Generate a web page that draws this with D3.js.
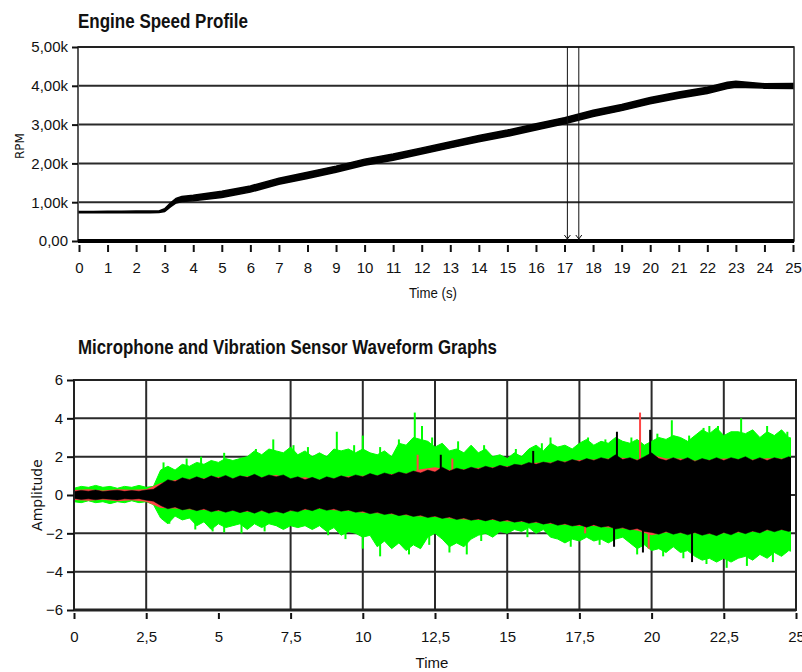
<!DOCTYPE html>
<html lang="en">
<head>
	<meta charset="UTF-8">
	<script type="text/javascript" src="https://d3js.org/d3.v7.min.js"></script>
	<title>Engine Speed / Waveform</title>
	<style>
		body { margin: 0; background: #fff; }
		.title { font-family: "Liberation Sans", Arial, sans-serif; font-weight: bold; fill: #111; }
		.tick text { font-family: "Liberation Sans", Arial, sans-serif; font-size: 15px; fill: #111; }
		.tick line { stroke: #111; stroke-width: 2; }
		.axlabel { font-family: "Liberation Sans", Arial, sans-serif; font-size: 15px; fill: #111; }
		.ylabel { font-family: "DejaVu Sans", sans-serif; font-size: 12px; fill: #111; }
		.grid { stroke: #2a2a2a; stroke-width: 2; }
	</style>
</head>
<body>
<script type="text/javascript">
	// ---- engine speed profile (rpm band)
	const rpmTime  = [0, 0.5, 1, 1.5, 2, 2.5, 2.8, 3.0, 3.2, 3.4, 3.6, 4, 5, 6, 7, 8, 9, 10, 11, 12, 13, 14, 15, 16, 17, 18, 19, 20, 21, 22, 22.7, 23, 24, 25];
	const rpmUpper = [760, 760, 765, 765, 770, 770, 775, 830, 980, 1100, 1150, 1180, 1280, 1420, 1620, 1770, 1930, 2110, 2240, 2400, 2560, 2720, 2860, 3020, 3180, 3370, 3520, 3700, 3840, 3960, 4090, 4120, 4050, 4060];
	const rpmLower = [725, 725, 725, 730, 730, 730, 735, 760, 880, 980, 1020, 1040, 1120, 1260, 1460, 1610, 1770, 1950, 2080, 2240, 2400, 2560, 2700, 2860, 3020, 3210, 3360, 3540, 3680, 3800, 3930, 3960, 3940, 3930];
	const cursors = [17.1, 17.5];
	const rpmTicks = [0, 1000, 2000, 3000, 4000, 5000];
	const timeTicks = d3.range(0, 26, 1);

	// ---- waveform envelopes, sampled every 0.25 s (four per line = one second)
	const fineTime = d3.range(0, 25.001, 0.25);
	const greenUpper = [
		0.35, 0.45, 0.4, 0.5,   0.4, 0.45, 0.35, 0.45,   0.4, 0.5, 0.4, 0.45,
		1.3, 1.5, 1.3, 1.6,     1.5, 1.7, 1.6, 1.8,      1.7, 1.9, 1.8, 1.9,
		2.0, 2.3, 2.1, 2.4,     2.3, 2.2, 2.5, 2.1,      2.3, 2.0, 2.2, 2.0,
		2.4, 2.3, 2.4, 2.2,     2.4, 2.2, 2.1, 2.3,      2.0, 2.7, 2.6, 3.0,
		2.9, 2.8, 2.5, 2.7,     2.3, 2.4, 2.2, 2.6,      2.2, 2.4, 2.0, 2.1,
		1.9, 2.2, 2.0, 2.4,     2.6, 2.3, 2.7, 2.5,      2.6, 2.4, 2.7, 2.9,
		2.6, 2.8, 2.7, 3.0,     2.8, 2.7, 2.9, 2.6,      2.8, 3.0, 2.9, 3.1,
		3.0, 2.8, 3.1, 3.4,     3.2, 3.5, 3.1, 3.3,      3.3, 3.2, 3.4, 3.0,
		3.3, 3.1, 3.4, 3.0,     2.9];
	const greenLower = [
		-0.35, -0.4, -0.3, -0.4,  -0.35, -0.45, -0.35, -0.4,  -0.3, -0.4, -0.35, -0.5,
		-1.2, -1.5, -1.1, -1.3,   -1.2, -1.6, -1.4, -1.8,     -1.5, -1.7, -1.6, -1.5,
		-1.8, -1.5, -1.7, -1.5,   -1.6, -1.8, -1.6, -1.7,     -1.6, -1.8, -1.6, -1.9,
		-1.7, -2.1, -1.9, -2.0,   -2.2, -2.1, -2.7, -2.4,     -2.8, -2.5, -2.9, -2.6,
		-2.8, -2.2, -2.0, -2.3,   -2.7, -2.5, -2.7, -2.3,     -2.1, -2.0, -2.2, -1.9,
		-2.0, -1.8, -1.9, -1.7,   -2.0, -1.8, -2.2, -2.3,     -2.5, -2.3, -2.4, -2.2,
		-2.4, -2.3, -2.5, -2.3,   -2.2, -2.5, -2.8, -2.6,     -2.9, -2.8, -3.0, -2.7,
		-3.0, -2.9, -3.2, -3.4,   -3.3, -3.5, -3.3, -3.5,     -3.3, -3.2, -3.4, -3.1,
		-3.3, -3.0, -3.2, -2.9,   -3.0];
	const blackUpper = [
		0.18, 0.24, 0.2, 0.26,   0.18, 0.22, 0.25, 0.19,   0.23, 0.2, 0.26, 0.3,
		0.55, 0.8, 0.7, 0.9,     0.8, 0.95, 0.82, 1.0,     0.88, 1.02, 0.85, 1.0,
		0.92, 1.08, 0.9, 1.05,   0.95, 1.05, 0.85, 0.95,   0.8, 0.92, 0.78, 0.95,
		0.85, 1.0, 0.9, 1.05,    0.95, 1.12, 1.0, 1.15,    1.05, 1.2, 1.1, 1.25,
		1.15, 1.3, 1.2, 1.45,    1.25, 1.4, 1.3, 1.45,     1.35, 1.5, 1.4, 1.55,
		1.45, 1.6, 1.55, 1.7,    1.6, 1.72, 1.65, 1.8,     1.7, 1.85, 1.75, 1.9,
		1.8, 1.95, 1.85, 2.1,    1.85, 1.95, 1.8, 2.0,     2.2, 1.9, 1.8, 1.95,
		1.8, 1.95, 1.75, 1.9,    1.8, 1.95, 1.8, 1.95,     1.85, 2.0, 1.8, 1.95,
		1.8, 1.95, 1.85, 2.0,    1.85];
	const blackLower = [
		-0.18, -0.23, -0.2, -0.25,  -0.19, -0.22, -0.26, -0.2,   -0.22, -0.19, -0.27, -0.32,
		-0.55, -0.72, -0.62, -0.78, -0.7, -0.82, -0.72, -0.88,   -0.78, -0.9, -0.8, -0.92,
		-0.82, -0.95, -0.8, -0.95,  -0.85, -0.95, -0.8, -0.88,   -0.72, -0.82, -0.68, -0.8,
		-0.72, -0.85, -0.78, -0.9,  -0.85, -0.98, -0.9, -1.02,   -0.95, -1.08, -1.0, -1.12,
		-1.05, -1.18, -1.1, -1.22,  -1.15, -1.28, -1.2, -1.32,   -1.25, -1.35, -1.25, -1.38,
		-1.3, -1.42, -1.35, -1.48,  -1.4, -1.52, -1.45, -1.58,   -1.5, -1.62, -1.55, -1.68,
		-1.55, -1.68, -1.62, -1.78, -1.7, -1.82, -1.75, -1.9,    -1.95, -2.05, -1.9, -2.05,
		-1.95, -2.08, -1.95, -2.1,  -2.0, -2.12, -1.95, -2.08,   -1.9, -2.02, -1.88, -1.98,
		-1.8, -1.92, -1.8, -1.9,    -1.8];
	// red trace, every 0.5 s (two per second)
	const halfTime = d3.range(0, 25.001, 0.5);
	const redUpper = [0.26, 0.3, 0.24, 0.3, 0.28, 0.3, 0.62, 0.78, 0.85, 0.88, 0.95, 0.88, 0.98, 0.92, 1.05, 0.85,
		0.92, 0.8, 0.88, 0.98, 1.0, 1.02, 1.1, 1.12, 1.35, 1.45, 1.3, 1.35, 1.42, 1.45, 1.5, 1.58, 1.68, 1.7,
		1.75, 1.82, 1.85, 1.9, 1.95, 1.85, 2.1, 1.9, 1.9, 1.8, 1.82, 1.9, 1.88, 1.85, 1.92, 1.9, 1.9];
	const redLower = [-0.26, -0.3, -0.25, -0.32, -0.28, -0.35, -0.68, -0.7, -0.75, -0.78, -0.85, -0.82, -0.88, -0.85, -0.9, -0.85,
		-0.78, -0.72, -0.8, -0.82, -0.92, -0.95, -1.0, -1.05, -1.12, -1.15, -1.22, -1.28, -1.3, -1.3, -1.38, -1.4, -1.45, -1.5,
		-1.55, -1.62, -1.62, -1.7, -1.75, -1.85, -2.1, -1.95, -2.0, -2.0, -2.05, -2.0, -1.95, -1.92, -1.85, -1.82, -1.85];
	// narrow peaks [time, amplitude]
	const greenSpikes = [[3.1, 1.7], [3.9, 1.9], [4.4, 2.0], [5.2, 2.2], [6.3, 2.4], [6.9, 2.9], [7.6, 2.6], [8.1, 2.5],
		[9.1, 3.3], [9.7, 2.6], [10.0, 3.1], [10.6, 2.5], [11.25, 2.9], [11.8, 4.3], [12.05, 3.6], [12.4, 3.0], [13.3, 2.8],
		[14.2, 2.6], [15.3, 2.4], [16.2, 2.7], [16.5, 3.0], [17.8, 3.0], [18.4, 2.9], [19.3, 3.0], [20.2, 3.2], [20.7, 3.9],
		[21.3, 3.1], [21.8, 3.5], [22.0, 3.6], [22.3, 3.6], [23.1, 4.0], [24.0, 3.6], [24.7, 3.3],
		[3.3, -1.5], [4.2, -1.8], [4.8, -1.9], [5.2, -1.95], [5.8, -2.0], [6.6, -1.9], [8.8, -2.1], [9.4, -2.3], [10.0, -2.8],
		[10.6, -3.2], [11.6, -3.1], [12.3, -2.6], [13.0, -3.0], [13.6, -3.1], [14.1, -2.4], [15.7, -2.2], [17.2, -2.7],
		[18.2, -2.6], [19.5, -3.1], [20.4, -3.2], [21.1, -3.3], [21.9, -3.6], [22.6, -3.8], [23.3, -3.7], [24.2, -3.5]];
	const redSpikes = [[19.6, 4.3], [11.9, 2.1], [13.1, 1.9], [19.9, -2.8], [19.7, -2.5], [17.7, -2.0]];
	const blackSpikes = [[18.8, 3.3], [19.95, 3.4], [12.7, 2.1], [15.9, 2.3], [18.7, -2.7], [19.7, -3.0], [21.4, -3.5]];
	const ampTicks = [-6, -4, -2, 0, 2, 4, 6];
	const waveTicks = d3.range(0, 25.001, 2.5);
	const waveGrid = [2.5, 7.5, 10, 12.5, 15, 17.5, 20, 22.5];

	const svg = d3.select("body").append("svg")
		.attr("width", 802).attr("height", 672);
	const comma = v => String(v).replace(".", ",");

	// ================= top chart
	let xT = d3.scaleLinear().domain([0, 25]).range([79, 793]),
		yT = d3.scaleLinear().domain([0, 5000]).range([241, 47]);

	svg.append("text").attr("class", "title").attr("x", 78).attr("y", 28)
		.style("font-size", "20px").attr("textLength", 170).attr("lengthAdjust", "spacingAndGlyphs")
		.text("Engine Speed Profile");

	svg.append("g").selectAll("line").data(rpmTicks.slice(1, 5)).enter().append("line")
		.attr("class", "grid")
		.attr("x1", xT(0)).attr("x2", xT(25))
		.attr("y1", d => yT(d)).attr("y2", d => yT(d));

	let rpmData = rpmTime.map((t, i) => ({t: t, hi: rpmUpper[i], lo: rpmLower[i]}));
	svg.append("path").datum(rpmData)
		.attr("fill", "#000").attr("stroke", "#000").attr("stroke-width", 1.5)
		.attr("d", d3.area().x(d => xT(d.t)).y0(d => yT(d.lo)).y1(d => yT(d.hi)));

	// frame
	svg.append("rect").attr("x", xT(0) - 1).attr("y", yT(5000)).attr("width", xT(25) - xT(0) + 2).attr("height", yT(0) - yT(5000))
		.attr("fill", "none").attr("stroke", "#222").attr("stroke-width", 1.5);
	svg.append("line").attr("x1", xT(0) - 1).attr("x2", xT(25) + 1).attr("y1", yT(0)).attr("y2", yT(0))
		.attr("stroke", "#000").attr("stroke-width", 4);
	svg.append("line").attr("x1", xT(0) - 1).attr("x2", xT(25) + 1).attr("y1", yT(5000)).attr("y2", yT(5000))
		.attr("stroke", "#222").attr("stroke-width", 2);

	// cursors
	cursors.forEach(c => {
		svg.append("line").attr("x1", xT(c)).attr("x2", xT(c)).attr("y1", yT(5000)).attr("y2", yT(0))
			.attr("stroke", "#111").attr("stroke-width", 1);
		svg.append("path")
			.attr("d", "M" + (xT(c) - 3) + "," + (yT(0) - 6) + "L" + xT(c) + "," + (yT(0) - 2) + "L" + (xT(c) + 3) + "," + (yT(0) - 6))
			.attr("fill", "none").attr("stroke", "#111").attr("stroke-width", 1);
	});

	let axT = svg.append("g").attr("transform", "translate(0," + (yT(0) + 4) + ")")
		.call(d3.axisBottom(xT).tickValues(timeTicks).tickSize(7).tickSizeOuter(0).tickPadding(10).tickFormat(d3.format("d")));
	axT.select(".domain").remove();
	let ayT = svg.append("g").attr("transform", "translate(" + (xT(0) - 1) + ",0)")
		.call(d3.axisLeft(yT).tickValues(rpmTicks).tickSize(6).tickPadding(4)
			.tickFormat(d => d === 0 ? "0,00" : comma((d / 1000).toFixed(2)) + "k"));
	ayT.select(".domain").remove();

	svg.append("text").attr("class", "axlabel").attr("x", 409).attr("y", 298)
		.attr("textLength", 48).attr("lengthAdjust", "spacingAndGlyphs").text("Time (s)");
	svg.append("text").attr("class", "ylabel").attr("transform", "translate(24,146) rotate(-90)")
		.attr("text-anchor", "middle").text("RPM");

	// ================= bottom chart
	let xB = d3.scaleLinear().domain([0, 25]).range([74, 796]),
		yB = d3.scaleLinear().domain([-6, 6]).range([610, 380]);

	svg.append("text").attr("class", "title").attr("x", 78).attr("y", 354)
		.style("font-size", "21px").attr("textLength", 419).attr("lengthAdjust", "spacingAndGlyphs")
		.text("Microphone and Vibration Sensor Waveform Graphs");

	svg.append("g").selectAll("line").data([-4, -2, 0, 2, 4]).enter().append("line")
		.attr("class", "grid")
		.attr("x1", xB(0)).attr("x2", xB(25))
		.attr("y1", d => yB(d)).attr("y2", d => yB(d));
	svg.append("g").selectAll("line").data(waveGrid).enter().append("line")
		.attr("class", "grid")
		.attr("x1", d => xB(d)).attr("x2", d => xB(d))
		.attr("y1", yB(6)).attr("y2", yB(-6));

	svg.append("clipPath").attr("id", "clipB").append("rect")
		.attr("x", xB(0)).attr("y", yB(6)).attr("width", xB(25) - xB(0) - 5).attr("height", yB(-6) - yB(6));
	let gB = svg.append("g").attr("clip-path", "url(#clipB)");

	let envArea = d3.area().x(d => xB(d.t)).y0(d => yB(d.lo)).y1(d => yB(d.hi));
	let layers = [
		{color: "#00ff00", time: fineTime, hi: greenUpper, lo: greenLower, spikes: greenSpikes, sw: 1},
		{color: "#ff4545", time: halfTime, hi: redUpper, lo: redLower, spikes: redSpikes, sw: 0},
		{color: "#000000", time: fineTime, hi: blackUpper, lo: blackLower, spikes: blackSpikes, sw: 0.5}
	];
	layers.forEach(L => {
		let data = L.time.map((t, i) => ({t: t, hi: L.hi[i], lo: L.lo[i]}))
			.filter(d => d.hi !== undefined && d.lo !== undefined);
		gB.append("path").datum(data)
			.attr("fill", L.color).attr("stroke", L.color).attr("stroke-width", L.sw)
			.attr("d", envArea);
		gB.selectAll(null).data(L.spikes).enter().append("line")
			.attr("x1", d => xB(d[0])).attr("x2", d => xB(d[0]))
			.attr("y1", yB(0)).attr("y2", d => yB(d[1]))
			.attr("stroke", L.color).attr("stroke-width", 2);
	});

	svg.append("rect").attr("x", xB(0)).attr("y", yB(6)).attr("width", xB(25) - xB(0)).attr("height", yB(-6) - yB(6))
		.attr("fill", "none").attr("stroke", "#222").attr("stroke-width", 2);
	svg.append("line").attr("x1", xB(0)).attr("x2", xB(25)).attr("y1", yB(-6)).attr("y2", yB(-6))
		.attr("stroke", "#222").attr("stroke-width", 3);

	let axB = svg.append("g").attr("transform", "translate(0," + (yB(-6) + 3) + ")")
		.call(d3.axisBottom(xB).tickValues(waveTicks).tickSize(6).tickSizeOuter(0).tickPadding(12).tickFormat(comma));
	axB.select(".domain").remove();
	let ayB = svg.append("g").attr("transform", "translate(" + xB(0) + ",0)")
		.call(d3.axisLeft(yB).tickValues(ampTicks).tickSize(7).tickPadding(4).tickFormat(d3.format("d")));
	ayB.select(".domain").remove();

	svg.append("text").attr("class", "axlabel").attr("x", 432).attr("y", 668).attr("text-anchor", "middle").text("Time");
	svg.append("text").attr("class", "ylabel").attr("transform", "translate(42,495) rotate(-90)")
		.attr("text-anchor", "middle").style("font-size", "14px").text("Amplitude");
</script>
</body>
</html>
